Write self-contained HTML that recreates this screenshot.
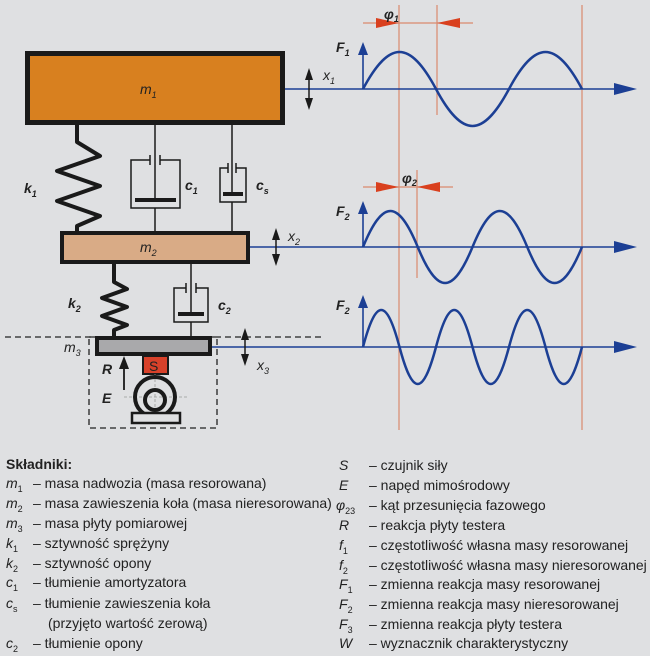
<!DOCTYPE html>
<html><head><meta charset="utf-8"><style>
html,body{margin:0;padding:0;background:#dfe0e2;}
svg{display:block;}
text{font-family:"Liberation Sans",sans-serif;}
.it{font-style:italic;}
.lg{font-size:14px;fill:#222;}
</style></head><body>
<svg width="650" height="656" viewBox="0 0 650 656" xmlns="http://www.w3.org/2000/svg">
<rect width="650" height="656" fill="#dfe0e2"/>

<!-- red vertical lines -->
<g stroke="#d98a6e" stroke-width="1.2">
<line x1="399" y1="5" x2="399" y2="430"/>
<line x1="582" y1="5" x2="582" y2="430"/>
<line x1="437" y1="5" x2="437" y2="115"/>
<line x1="417" y1="170" x2="417" y2="278"/>
<line x1="363" y1="23" x2="473" y2="23"/>
<line x1="363" y1="187" x2="453" y2="187"/>
</g>
<g fill="#d9401e">
<path d="M376,18 L399,23 L376,28z"/>
<path d="M460,18 L437,23 L460,28z"/>
<path d="M376,182 L399,187 L376,192z"/>
<path d="M440,182 L417,187 L440,192z"/>
</g>
<text x="384" y="19" class="it" font-size="14" font-weight="bold" fill="#222">φ<tspan font-size="9" dy="3">1</tspan></text>
<text x="402" y="183" class="it" font-size="14" font-weight="bold" fill="#222">φ<tspan font-size="9" dy="3">2</tspan></text>

<!-- axes -->
<g stroke="#1c3f94" stroke-width="1.6" fill="none">
<line x1="285" y1="89" x2="625" y2="89"/>
<line x1="250" y1="247" x2="625" y2="247"/>
<line x1="212" y1="347" x2="625" y2="347"/>
</g>
<g fill="#1c3f94">
<path d="M614,83 L637,89 L614,95z"/>
<path d="M614,241 L637,247 L614,253z"/>
<path d="M614,341 L637,347 L614,353z"/>
<path d="M358,55 L363,42 L368,55z"/>
<path d="M358,214 L363,201 L368,214z"/>
<path d="M358,308 L363,295 L368,308z"/>
</g>
<g stroke="#1c3f94" stroke-width="1.6">
<line x1="363" y1="89" x2="363" y2="52"/>
<line x1="363" y1="247" x2="363" y2="210"/>
<line x1="363" y1="347" x2="363" y2="305"/>
</g>
<g stroke="#1c3f94" stroke-width="2.5" fill="none">
<path d="M363,89 C389.3,39.7 409.7,39.7 436,89 C462.3,138.3 482.7,138.3 509,89 C535.3,39.7 555.7,39.7 582,89"/>
<path d="M363,247 C382.7,199 398,199 417.75,247 C437.45,295 452.75,295 472.5,247 C492.2,199 507.5,199 527.25,247 C546.95,295 562.25,295 582,247"/>
<path d="M363,347 C376.1,297.7 386.4,297.7 399.5,347 C412.6,396.3 422.9,396.3 436,347 C449.1,297.7 459.4,297.7 472.5,347 C485.6,396.3 495.9,396.3 509,347 C522.1,297.7 532.4,297.7 545.5,347 C558.6,396.3 568.9,396.3 582,347"/>
</g>
<g class="it" font-size="14" font-weight="bold" fill="#222">
<text x="336" y="52">F<tspan font-size="9" dy="4">1</tspan></text>
<text x="336" y="216">F<tspan font-size="9" dy="4">2</tspan></text>
<text x="336" y="310">F<tspan font-size="9" dy="4">2</tspan></text>
</g>

<!-- dashed line & box -->
<line x1="5" y1="337" x2="322" y2="337" stroke="#222" stroke-width="1.3" stroke-dasharray="6,4"/>
<rect x="89" y="337" width="128" height="91" fill="none" stroke="#222" stroke-width="1.3" stroke-dasharray="6,4"/>

<!-- masses -->
<rect x="27.5" y="53.5" width="255" height="69" fill="#d8801f" stroke="#1a1a1a" stroke-width="5"/>
<rect x="62" y="233" width="186" height="29" fill="#d9ab86" stroke="#1a1a1a" stroke-width="4"/>
<rect x="97" y="338" width="113" height="16" fill="#a9a9ab" stroke="#1a1a1a" stroke-width="4"/>
<g class="it" font-size="14" fill="#222">
<text x="140" y="94">m<tspan font-size="9" dy="4">1</tspan></text>
<text x="140" y="252">m<tspan font-size="9" dy="4">2</tspan></text>
<text x="64" y="352">m<tspan font-size="9" dy="4">3</tspan></text>
</g>

<!-- springs -->
<g stroke="#1a1a1a" stroke-width="4" fill="none" stroke-linejoin="round">
<polyline points="77,125 77,142 100,156 57,171 100,186 57,201 100,216 77,226 77,232"/>
<polyline points="114,264 114,282 127,289 102,298 127,307 102,316 127,325 114,330 114,336"/>
</g>
<g class="it" font-size="14" font-weight="bold" fill="#222">
<text x="24" y="193">k<tspan font-size="9" dy="4">1</tspan></text>
<text x="68" y="308">k<tspan font-size="9" dy="4">2</tspan></text>
<text x="185" y="190">c<tspan font-size="9" dy="4">1</tspan></text>
<text x="256" y="190">c<tspan font-size="9" dy="4">s</tspan></text>
<text x="218" y="310">c<tspan font-size="9" dy="4">2</tspan></text>
</g>

<!-- dampers -->
<g stroke="#1a1a1a" stroke-width="1.5" fill="none">
<line x1="155" y1="125" x2="155" y2="200"/>
<line x1="155" y1="208" x2="155" y2="232"/>
<path d="M150,160 H131 V208 H180 V160 H160 M150,155 V165 M160,155 V165"/>
<line x1="232" y1="125" x2="232" y2="194"/>
<line x1="232" y1="202" x2="232" y2="232"/>
<path d="M228,168 H220 V202 H246 V168 H236 M228,163 V173 M236,163 V173"/>
<line x1="191" y1="264" x2="191" y2="314"/>
<line x1="191" y1="322" x2="191" y2="336"/>
<path d="M186,288 H174 V322 H208 V288 H196 M186,283 V293 M196,283 V293"/>
</g>
<g stroke="#1a1a1a" stroke-width="4">
<line x1="135" y1="200" x2="176" y2="200"/>
<line x1="223" y1="194" x2="243" y2="194"/>
<line x1="178" y1="314" x2="204" y2="314"/>
</g>

<!-- x arrows -->
<g fill="#1a1a1a">
<path d="M305,80 L309,68 L313,80z M305,98 L309,110 L313,98z"/>
<path d="M272,240 L276,228 L280,240z M272,254 L276,266 L280,254z"/>
<path d="M241,340 L245,328 L249,340z M241,354 L245,366 L249,354z"/>
</g>
<g stroke="#1a1a1a" stroke-width="1.5">
<line x1="309" y1="78" x2="309" y2="100"/>
<line x1="276" y1="238" x2="276" y2="256"/>
<line x1="245" y1="338" x2="245" y2="356"/>
</g>
<g class="it" font-size="14" fill="#222">
<text x="323" y="80">x<tspan font-size="9" dy="4">1</tspan></text>
<text x="288" y="241">x<tspan font-size="9" dy="4">2</tspan></text>
<text x="257" y="370">x<tspan font-size="9" dy="4">3</tspan></text>
<text x="102" y="374" font-weight="bold">R</text>
<text x="102" y="403" font-weight="bold">E</text>
</g>

<!-- R arrow, S, exciter -->
<line x1="124" y1="390" x2="124" y2="366" stroke="#1a1a1a" stroke-width="1.8"/>
<path d="M119,369 L124,356 L129,369z" fill="#1a1a1a"/>
<rect x="143" y="356" width="25" height="18" fill="#d8412a" stroke="#1a1a1a" stroke-width="2"/>
<text x="149" y="371" font-size="14" fill="#222">S</text>
<g stroke="#999" stroke-width="0.8" stroke-dasharray="3,2">
<line x1="124" y1="397" x2="189" y2="397"/>
<line x1="155" y1="374" x2="155" y2="420"/>
</g>
<circle cx="155" cy="397" r="20" fill="none" stroke="#1a1a1a" stroke-width="4"/>
<circle cx="155" cy="400" r="10" fill="none" stroke="#1a1a1a" stroke-width="4"/>
<rect x="132" y="413" width="48" height="10" fill="#dfe0e2" stroke="#1a1a1a" stroke-width="2.5"/>

<!-- legend -->
<text x="6" y="469" font-size="14" font-weight="bold" fill="#222">Składniki:</text>
<g class="lg">
<text x="6" y="488"><tspan class="it">m</tspan><tspan font-size="9" dy="4">1</tspan><tspan x="33" dy="-4">– masa nadwozia (masa resorowana)</tspan></text>
<text x="6" y="508"><tspan class="it">m</tspan><tspan font-size="9" dy="4">2</tspan><tspan x="33" dy="-4">– masa zawieszenia koła (masa nieresorowana)</tspan></text>
<text x="6" y="528"><tspan class="it">m</tspan><tspan font-size="9" dy="4">3</tspan><tspan x="33" dy="-4">– masa płyty pomiarowej</tspan></text>
<text x="6" y="548"><tspan class="it">k</tspan><tspan font-size="9" dy="4">1</tspan><tspan x="33" dy="-4">– sztywność sprężyny</tspan></text>
<text x="6" y="568"><tspan class="it">k</tspan><tspan font-size="9" dy="4">2</tspan><tspan x="33" dy="-4">– sztywność opony</tspan></text>
<text x="6" y="587"><tspan class="it">c</tspan><tspan font-size="9" dy="4">1</tspan><tspan x="33" dy="-4">– tłumienie amortyzatora</tspan></text>
<text x="6" y="608"><tspan class="it">c</tspan><tspan font-size="9" dy="4">s</tspan><tspan x="33" dy="-4">– tłumienie zawieszenia koła</tspan></text>
<text x="48" y="628">(przyjęto wartość zerową)</text>
<text x="6" y="648"><tspan class="it">c</tspan><tspan font-size="9" dy="4">2</tspan><tspan x="33" dy="-4">– tłumienie opony</tspan></text>

<text x="339" y="470"><tspan class="it">S</tspan><tspan x="369">– czujnik siły</tspan></text>
<text x="339" y="490"><tspan class="it">E</tspan><tspan x="369">– napęd mimośrodowy</tspan></text>
<text x="336" y="510"><tspan class="it">φ</tspan><tspan font-size="9" dy="4">23</tspan><tspan x="369" dy="-4">– kąt przesunięcia fazowego</tspan></text>
<text x="339" y="530"><tspan class="it">R</tspan><tspan x="369">– reakcja płyty testera</tspan></text>
<text x="339" y="550"><tspan class="it">f</tspan><tspan font-size="9" dy="4">1</tspan><tspan x="369" dy="-4">– częstotliwość własna masy resorowanej</tspan></text>
<text x="339" y="570"><tspan class="it">f</tspan><tspan font-size="9" dy="4">2</tspan><tspan x="369" dy="-4">– częstotliwość własna masy nieresorowanej</tspan></text>
<text x="339" y="589"><tspan class="it">F</tspan><tspan font-size="9" dy="4">1</tspan><tspan x="369" dy="-4">– zmienna reakcja masy resorowanej</tspan></text>
<text x="339" y="609"><tspan class="it">F</tspan><tspan font-size="9" dy="4">2</tspan><tspan x="369" dy="-4">– zmienna reakcja masy nieresorowanej</tspan></text>
<text x="339" y="629"><tspan class="it">F</tspan><tspan font-size="9" dy="4">3</tspan><tspan x="369" dy="-4">– zmienna reakcja płyty testera</tspan></text>
<text x="339" y="648"><tspan class="it">W</tspan><tspan x="369">– wyznacznik charakterystyczny</tspan></text>
</g>
</svg>
</body></html>
